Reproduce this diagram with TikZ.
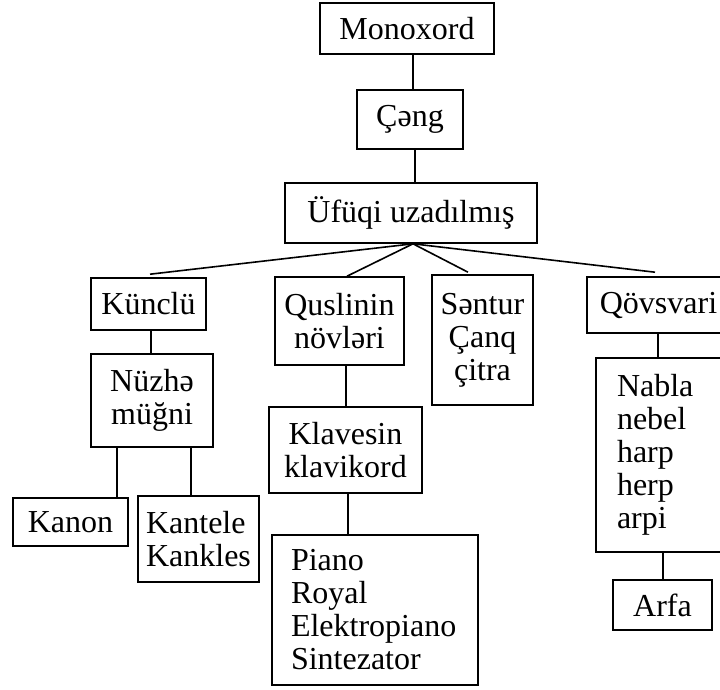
\documentclass[tikz,border=0pt]{standalone}
\usepackage{fontspec}
\setmainfont{Liberation Serif}
\begin{document}
\begin{tikzpicture}[x=1pt,y=-1pt,
  box/.style={draw, line width=1.6pt, inner sep=0pt, align=center,
    font=\fontsize{32}{33}\selectfont},
  listbox/.style={box, align=left},
  link/.style={line width=1.6pt}]
\useasboundingbox (0,0) rectangle (720,689);
\clip (0,0) rectangle (720,689);

% top chain
\node[box, minimum width=174pt, minimum height=51pt] (mono) at (407,28.5) {Monoxord};
\node[box, minimum width=106pt, minimum height=59pt] (ceng) at (410,119.5) {Çəng};
\node[box, minimum width=252pt, minimum height=60pt] (ufuqi) at (411,213) {Üfüqi uzadılmış};

% second level
\node[box, minimum width=115pt, minimum height=52pt] (kunclu) at (148.5,304) {Künclü};
\node[box, minimum width=129pt, minimum height=88pt] (qusl) at (339.5,321) {Quslinin\\növləri};
\node[box, minimum width=101pt, minimum height=130pt] (sentur) at (482.5,340) {Səntur\\Çanq\\çitra};
\node[box, minimum width=143pt, minimum height=56pt] (qovs) at (658.5,305) {Qövsvari};

% left branch
\node[box, minimum width=122pt, minimum height=93pt] (nuzhe) at (152,400.5) {Nüzhə\\müğni};
\node[box, minimum width=115pt, minimum height=48pt] (kanon) at (70.5,522) {Kanon};
\node[listbox, minimum width=121pt, minimum height=86pt] (kantele) at (198.5,539) {Kantele\\Kankles};

% middle branch
\node[box, minimum width=153pt, minimum height=86pt] (klav) at (345.5,450) {Klavesin\\klavikord};
\node[listbox, text width=168pt, inner xsep=19pt, minimum height=150pt] (piano) at (375,610)
  {Piano\\Royal\\Elektropiano\\Sintezator};

% right branch
\node[listbox, text width=90pt, inner xsep=21pt, minimum height=194pt] (nabla) at (662,455)
  {Nabla\\nebel\\harp\\herp\\arpi};
\node[box, minimum width=99pt, minimum height=50pt] (arfa) at (662.5,605) {Arfa};

% connectors
\draw[link] ([xshift=6pt]mono.south) -- ([xshift=3pt]ceng.north);
\draw[link] ([xshift=5pt]ceng.south) -- ([xshift=4pt]ufuqi.north);

\draw[link] ([xshift=2pt]ufuqi.south) -- ([xshift=1.5pt,yshift=3pt]kunclu.north);
\draw[link] ([xshift=2pt]ufuqi.south) -- ([xshift=7.5pt]qusl.north);
\draw[link] ([xshift=2pt]ufuqi.south) -- ([xshift=-14.5pt,yshift=2pt]sentur.north);
\draw[link] ([xshift=2pt]ufuqi.south) -- ([xshift=-3.5pt,yshift=4pt]qovs.north);

\draw[link] ([xshift=2.5pt]kunclu.south) -- ([xshift=-1pt]nuzhe.north);
\draw[link] ([xshift=-35pt]nuzhe.south) -- ([xshift=46.5pt]kanon.north);
\draw[link] ([xshift=39pt]nuzhe.south) -- ([xshift=-7.5pt]kantele.north);

\draw[link] ([xshift=6.5pt]qusl.south) -- ([xshift=0.5pt]klav.north);
\draw[link] ([xshift=2.5pt]klav.south) -- ([xshift=-27pt]piano.north);

\draw[link] ([xshift=-0.5pt]qovs.south) -- ([xshift=-4pt]nabla.north);
\draw[link] ([xshift=1pt]nabla.south) -- ([xshift=0.5pt]arfa.north);
\end{tikzpicture}
\end{document}
